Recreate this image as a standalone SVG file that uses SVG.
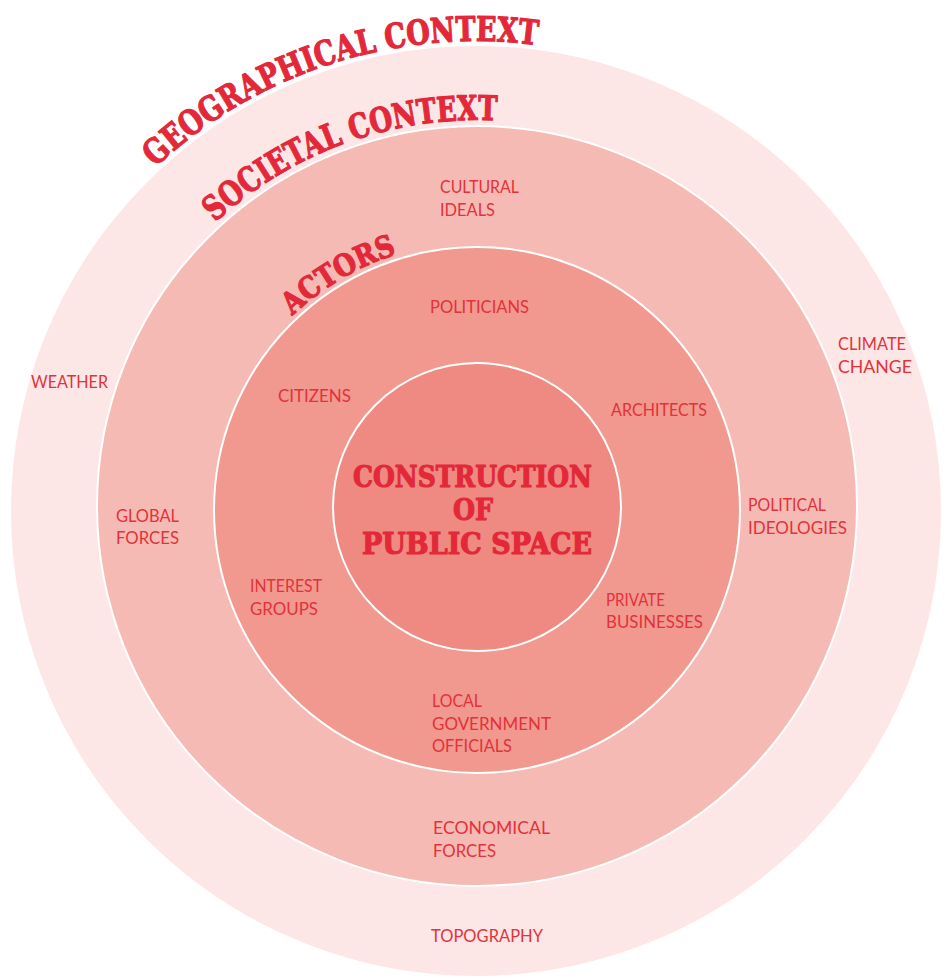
<svg xmlns="http://www.w3.org/2000/svg" width="945" height="978" viewBox="0 0 945 978">
<style>
.ring{stroke:#ffffff;stroke-width:2}
.lbl{font-family:"Lato","Liberation Sans",sans-serif;font-size:18px;fill:#e3323b}
.ttl{font-family:"DejaVu Serif","Liberation Serif",serif;font-weight:bold;fill:#e3283a;stroke:#e3283a;stroke-width:1.2;stroke-linejoin:round}
</style>
<defs>
<path id="pGeo" d="M155.5,167.2 A470,470 0 0 1 636.7,69.3"/>
<path id="pSoc" d="M215.2,222.3 A386,386 0 0 1 609,143.3"/>
<path id="pAct" d="M292.5,315.6 A268,268 0 0 1 477,242"/>
</defs>
<rect width="945" height="978" fill="#ffffff"/>
<g id="geographical">
<circle class="ring" cx="476" cy="511" r="466" fill="#fce7e6"/>
<text class="ttl" font-size="34"><textPath href="#pGeo" textLength="414" lengthAdjust="spacingAndGlyphs">GEOGRAPHICAL CONTEXT</textPath></text>
<text class="lbl"><tspan x="31" y="388" textLength="77" lengthAdjust="spacingAndGlyphs">WEATHER</tspan></text>
<text class="lbl"><tspan x="838" y="350" textLength="68" lengthAdjust="spacingAndGlyphs">CLIMATE</tspan><tspan x="838" y="373" textLength="74" lengthAdjust="spacingAndGlyphs">CHANGE</tspan></text>
<text class="lbl"><tspan x="431" y="942" textLength="112" lengthAdjust="spacingAndGlyphs">TOPOGRAPHY</tspan></text>
</g>
<g id="societal">
<circle class="ring" cx="477" cy="506" r="380" fill="#f5bab4"/>
<text class="ttl" font-size="34"><textPath href="#pSoc" textLength="308" lengthAdjust="spacingAndGlyphs">SOCIETAL CONTEXT</textPath></text>
<text class="lbl"><tspan x="440" y="193" textLength="79" lengthAdjust="spacingAndGlyphs">CULTURAL</tspan><tspan x="440" y="216" textLength="55" lengthAdjust="spacingAndGlyphs">IDEALS</tspan></text>
<text class="lbl"><tspan x="116" y="522" textLength="63" lengthAdjust="spacingAndGlyphs">GLOBAL</tspan><tspan x="116" y="544" textLength="63" lengthAdjust="spacingAndGlyphs">FORCES</tspan></text>
<text class="lbl"><tspan x="748" y="511" textLength="78" lengthAdjust="spacingAndGlyphs">POLITICAL</tspan><tspan x="748" y="534" textLength="99" lengthAdjust="spacingAndGlyphs">IDEOLOGIES</tspan></text>
<text class="lbl"><tspan x="433" y="834" textLength="117" lengthAdjust="spacingAndGlyphs">ECONOMICAL</tspan><tspan x="433" y="857" textLength="63" lengthAdjust="spacingAndGlyphs">FORCES</tspan></text>
</g>
<g id="actors">
<circle class="ring" cx="477" cy="510" r="263" fill="#f1988f"/>
<text class="ttl" font-size="30"><textPath href="#pAct" textLength="122" lengthAdjust="spacingAndGlyphs">ACTORS</textPath></text>
<text class="lbl"><tspan x="430" y="313" textLength="99" lengthAdjust="spacingAndGlyphs">POLITICIANS</tspan></text>
<text class="lbl"><tspan x="278" y="402" textLength="73" lengthAdjust="spacingAndGlyphs">CITIZENS</tspan></text>
<text class="lbl"><tspan x="611" y="416" textLength="96" lengthAdjust="spacingAndGlyphs">ARCHITECTS</tspan></text>
<text class="lbl"><tspan x="250" y="592" textLength="72" lengthAdjust="spacingAndGlyphs">INTEREST</tspan><tspan x="250" y="615" textLength="68" lengthAdjust="spacingAndGlyphs">GROUPS</tspan></text>
<text class="lbl"><tspan x="606" y="606" textLength="59" lengthAdjust="spacingAndGlyphs">PRIVATE</tspan><tspan x="606" y="628" textLength="97" lengthAdjust="spacingAndGlyphs">BUSINESSES</tspan></text>
<text class="lbl"><tspan x="432" y="707" textLength="50" lengthAdjust="spacingAndGlyphs">LOCAL</tspan><tspan x="432" y="730" textLength="119" lengthAdjust="spacingAndGlyphs">GOVERNMENT</tspan><tspan x="432" y="752" textLength="80" lengthAdjust="spacingAndGlyphs">OFFICIALS</tspan></text>
</g>
<g id="construction">
<circle class="ring" cx="477" cy="507" r="144" fill="#ef8a82"/>
<text class="ttl" font-size="30"><tspan x="353" y="487" textLength="239" lengthAdjust="spacingAndGlyphs">CONSTRUCTION</tspan><tspan x="453" y="520" textLength="40" lengthAdjust="spacingAndGlyphs">OF</tspan><tspan x="362" y="554" textLength="230" lengthAdjust="spacingAndGlyphs">PUBLIC SPACE</tspan></text>
</g>
<g id="connectors"></g>
</svg>
